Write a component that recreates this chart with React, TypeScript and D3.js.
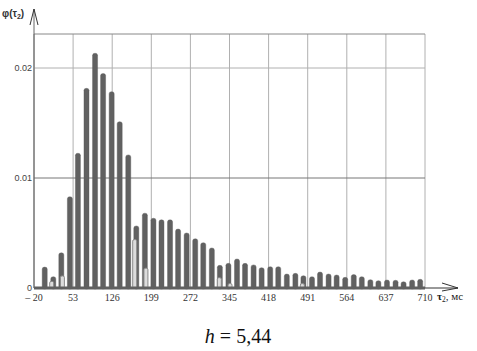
import React from "react";
import * as d3 from "d3";

const W = 477;
const H = 351;

// bin centres (ms) and main histogram values
const binCenters = [0, 16, 31, 47, 62, 78, 94, 109, 125, 140, 156, 171, 187, 203, 218, 234, 249, 265, 281, 296, 312, 327, 343, 359, 374, 390, 405, 421, 436, 452, 468, 483, 499, 514, 530, 545, 561, 577, 592, 608, 623, 639, 655, 670, 686, 701];
const mainValues = [0.0019, 0.00103, 0.0032, 0.0083, 0.01225, 0.01815, 0.02134, 0.0195, 0.01785, 0.01512, 0.0121, 0.00564, 0.0068, 0.00634, 0.0062, 0.0062, 0.00536, 0.005, 0.00448, 0.00412, 0.00364, 0.00206, 0.00224, 0.00264, 0.00224, 0.0021, 0.00185, 0.00194, 0.00194, 0.00127, 0.00133, 0.00112, 0.00103, 0.00145, 0.00127, 0.00118, 0.00097, 0.00122, 0.00103, 0.00076, 0.00067, 0.00073, 0.0007, 0.00057, 0.00073, 0.00079];

// secondary (light) bars
const secCenters = [13, 33, 168, 189, 326, 346, 481];
const secValues = [0.0006, 0.0011, 0.0044, 0.0018, 0.00094, 0.0004, 0.0004];

const xTicks = [-20, 53, 126, 199, 272, 345, 418, 491, 564, 637, 710];
const yTicks = [0, 0.01, 0.02];
const yTickLabels = ["0", "0.01", "0.02"];

export default function App() {
  const left = 34, right = 425, top = 34, bottom = 288;
  const x = d3.scaleLinear().domain([-20, 710]).range([left, right]);
  const y = d3.scaleLinear().domain([0, 0.02]).range([bottom, 68]);
  const barW = 5;
  const secW = 4;

  return (
    <svg width={W} height={H} style={{ position: "absolute", left: 0, top: 0, background: "#fff" }}>
      <rect x={0} y={0} width={W} height={H} fill="#fff" />
      {/* vertical grid */}
      {xTicks.map((t, i) => (
        <line key={"vg" + i} x1={x(t)} x2={x(t)} y1={top} y2={bottom} stroke={i === 0 ? "#888" : "#b0b0b0"} strokeWidth={1} />
      ))}
      {/* horizontal grid */}
      {yTicks.slice(1).map((t, i) => (
        <line key={"hg" + i} x1={left} x2={right} y1={y(t)} y2={y(t)} stroke={i === 0 ? "#777" : "#b0b0b0"} strokeWidth={1} />
      ))}
      <line x1={left} x2={right} y1={top} y2={top} stroke="#888" strokeWidth={1} />

      {/* main bars */}
      {binCenters.map((c, i) => (
        <rect key={"b" + i} x={x(c) - barW / 2} y={y(mainValues[i])} width={barW}
          height={bottom - y(mainValues[i]) + 1} rx={2.5} ry={2} fill="#616161" stroke="#555" strokeWidth={0.4} />
      ))}
      {/* secondary bars */}
      {secCenters.map((c, i) => (
        <rect key={"s" + i} x={x(c) - secW / 2} y={y(secValues[i])} width={secW}
          height={bottom - y(secValues[i])} rx={1.5} ry={1.5} fill="#dcdcdc" stroke="#8a8a8a" strokeWidth={1} />
      ))}

      {/* baseline */}
      <line x1={left} x2={right} y1={bottom} y2={bottom} stroke="#606060" strokeWidth={3} />
      {/* x axis extension + arrow */}
      <line x1={right} x2={458} y1={bottom} y2={bottom} stroke="#333" strokeWidth={1} />
      <path d={`M442,${bottom - 5} L458,${bottom} L442,${bottom + 3}`} fill="none" stroke="#333" strokeWidth={1} />
      {/* y axis line + arrow */}
      <line x1={left} x2={left} y1={bottom} y2={9} stroke="#666" strokeWidth={1} />
      <path d={`M${left - 4},25 L${left},9 L${left + 4},25`} fill="none" stroke="#333" strokeWidth={1} />

      {/* y tick labels */}
      {yTicks.map((t, i) => (
        <text key={"yl" + i} x={left - 2} y={y(t) + 3} textAnchor="end" fontFamily="Liberation Sans, Arial, sans-serif"
          fontSize={9} fill="#444">{yTickLabels[i]}</text>
      ))}
      {/* x tick labels */}
      {xTicks.map((t, i) => (
        <text key={"xl" + i} x={x(t)} y={bottom + 13} textAnchor="middle" fontFamily="Liberation Serif, Times New Roman, serif"
          fontSize={10} fill="#333">{t < 0 ? "– " + Math.abs(t) : String(t)}</text>
      ))}

      {/* axis titles */}
      <text x={2} y={17} fontFamily="Liberation Sans, Arial, sans-serif" fontSize={10} fontWeight="bold" fill="#333">
        φ(τ<tspan fontSize={7} dy={2}>2</tspan><tspan dy={-2}>)</tspan>
      </text>
      <text x={437} y={300} fontFamily="Liberation Serif, Times New Roman, serif" fontSize={11} fill="#222">
        <tspan fontWeight="bold">τ</tspan><tspan fontSize={7.5} dy={2}>2</tspan><tspan dy={-2}>, мс</tspan>
      </text>

      {/* caption */}
      <text x={238} y={343} textAnchor="middle" fontFamily="Liberation Serif, Times New Roman, serif" fontSize={20} fill="#111">
        <tspan fontStyle="italic">h</tspan> = 5,44
      </text>
    </svg>
  );
}
